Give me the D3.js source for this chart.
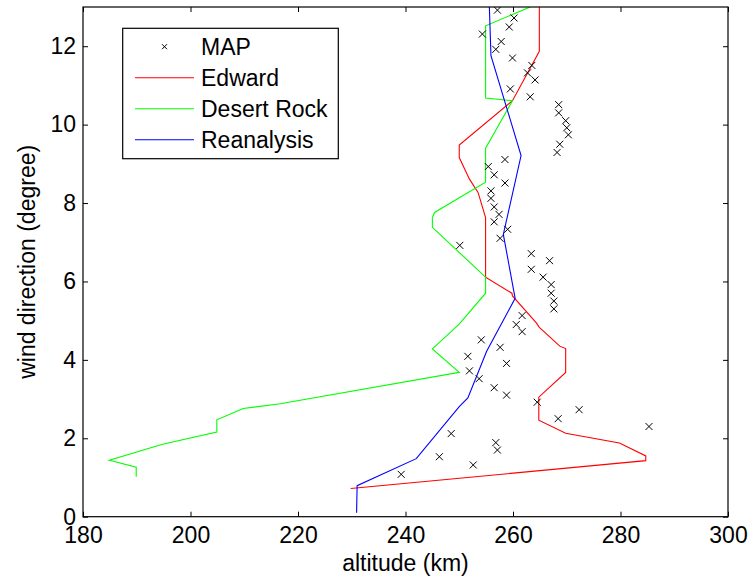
<!DOCTYPE html>
<head>
  <meta charset="utf-8">
  <script src="https://d3js.org/d3.v7.min.js"></script>
  <style>
    body { margin:0; background:#fff; }
    text { font-family: "Liberation Sans", Arial, sans-serif; }
  </style>
</head>

<body>
  <script>

  // MAP samples: altitude (km) and wind direction
  var mapAlt = [239.2, 252.6, 246.3, 257.1, 256.8, 248.5, 285.3, 268.4, 272.3, 264.5,
    258.8, 256.5, 253.7, 251.9, 258.8, 251.6, 257.6, 254.1, 261.7, 260.6,
    261.7, 267.6, 267.6, 267.1, 267.1, 265.6, 263.4, 266.8, 263.4, 250.1,
    257.6, 259.0, 256.5, 257.4, 256.5, 255.9, 255.9, 258.5, 256.5, 255.4,
    258.5, 268.2, 268.7, 270.3, 270.0, 269.8, 268.5, 268.5, 263.2, 259.5,
    264.1, 262.7, 263.5, 259.9, 256.8, 257.8, 254.3, 259.3, 260.2, 257.1];
  var mapDir = [1.08, 1.32, 1.53, 1.70, 1.89, 2.12, 2.30, 2.50, 2.73, 2.92,
    3.10, 3.29, 3.52, 3.72, 3.91, 4.09, 4.32, 4.51, 4.72, 4.90,
    5.13, 5.30, 5.50, 5.70, 5.92, 6.11, 6.31, 6.53, 6.71, 6.92,
    7.10, 7.33, 7.52, 7.71, 7.90, 8.12, 8.31, 8.51, 8.72, 8.93,
    9.11, 9.29, 9.50, 9.74, 9.92, 10.10, 10.30, 10.51, 10.71, 10.91,
    11.14, 11.32, 11.51, 11.70, 11.92, 12.12, 12.31, 12.49, 12.72, 12.92];

  var edwardAlt = [229.8, 284.7, 284.7, 279.8, 269.8, 264.8, 264.8, 269.8, 269.8, 268.7,
    264.9, 264.3, 259.9, 259.8, 254.9, 254.9, 253.5, 251.9, 250.0, 250.0,
    259.9, 264.9, 264.9];
  var edwardDir = [0.72, 1.43, 1.55, 1.88, 2.13, 2.46, 3.05, 3.68, 4.29, 4.35,
    4.83, 4.95, 5.63, 5.70, 6.11, 7.63, 8.27, 8.61, 9.16, 9.48,
    10.61, 11.87, 13.0];

  var desertAlt = [189.9, 189.9, 184.9, 194.8, 204.9, 204.9, 209.8, 216.7, 250.0, 245.0,
    249.9, 254.9, 254.9, 245.0, 245.0, 245.4, 254.9, 254.9, 259.9, 254.9,
    254.9, 263.2];
  var desertDir = [1.02, 1.26, 1.44, 1.85, 2.16, 2.47, 2.76, 2.88, 3.68, 4.28,
    4.90, 5.70, 6.11, 7.38, 7.63, 7.76, 8.53, 9.40, 10.61, 10.68,
    12.52, 13.0];

  var reanAlt = [230.9, 231.0, 242.0, 250.0, 251.6, 255.1, 260.4, 258.2, 261.5, 255.9, 255.6];
  var reanDir = [0.10, 0.79, 1.48, 2.81, 3.03, 4.22, 5.57, 7.20, 9.21, 11.76, 13.0];

  var xTicks = [180, 200, 220, 240, 260, 280, 300];
  var yTicks = [0, 2, 4, 6, 8, 10, 12];

  var width = 756, height = 580;
  var plotLeft = 83, plotRight = 728, plotTop = 7, plotBottom = 516.7;
  var fontSize = 23;

  var svg = d3.select("body").append("svg")
    .attr("width", width)
    .attr("height", height);

  var xScale = d3.scaleLinear().domain([180, 300]).range([plotLeft, plotRight]);
  var yScale = d3.scaleLinear().domain([0, 13]).range([plotBottom, plotTop]);

  svg.append("defs").append("clipPath").attr("id", "plotClip")
    .append("rect")
    .attr("x", plotLeft).attr("y", plotTop)
    .attr("width", plotRight - plotLeft).attr("height", plotBottom - plotTop);

  // Axes with inward ticks, MATLAB style box
  function styleAxis(g, showText) {
    g.select(".domain").remove();
    g.selectAll(".tick line").attr("stroke", "#000");
    g.selectAll(".tick text")
      .attr("fill", "#000")
      .style("font-size", fontSize + "px")
      .style("font-family", '"Liberation Sans", Arial, sans-serif');
    if (!showText) g.selectAll(".tick text").remove();
  }

  svg.append("g")
    .attr("transform", "translate(0," + plotBottom + ")")
    .call(d3.axisBottom(xScale).tickValues(xTicks).tickSize(-5).tickPadding(10))
    .call(styleAxis, true);

  svg.append("g")
    .attr("transform", "translate(0," + plotTop + ")")
    .call(d3.axisTop(xScale).tickValues(xTicks).tickSize(-5))
    .call(styleAxis, false);

  svg.append("g")
    .attr("transform", "translate(" + plotLeft + ",0)")
    .call(d3.axisLeft(yScale).tickValues(yTicks).tickSize(-5).tickPadding(7))
    .call(styleAxis, true);

  svg.append("g")
    .attr("transform", "translate(" + plotRight + ",0)")
    .call(d3.axisRight(yScale).tickValues(yTicks).tickSize(-5))
    .call(styleAxis, false);

  // Data
  var plot = svg.append("g").attr("clip-path", "url(#plotClip)");

  var line = d3.line()
    .x(function(d) { return xScale(d[0]); })
    .y(function(d) { return yScale(d[1]); });

  var series = [
    { name: "Edward", alt: edwardAlt, dir: edwardDir, color: "#ff0000" },
    { name: "Desert Rock", alt: desertAlt, dir: desertDir, color: "#00ff00" },
    { name: "Reanalysis", alt: reanAlt, dir: reanDir, color: "#0000ff" }
  ];

  series.forEach(function(s) {
    plot.append("path")
      .datum(d3.zip(s.alt, s.dir))
      .attr("d", line)
      .attr("fill", "none")
      .attr("stroke", s.color)
      .attr("stroke-width", 1.1);
  });

  function cross(sz) {
    return "M" + (-sz) + "," + (-sz) + "L" + sz + "," + sz +
           "M" + (-sz) + "," + sz + "L" + sz + "," + (-sz);
  }

  plot.selectAll(".map")
    .data(d3.zip(mapAlt, mapDir))
    .enter()
    .append("path")
    .attr("transform", function(d) {
      return "translate(" + xScale(d[0]) + "," + yScale(d[1]) + ")";
    })
    .attr("d", cross(3.5))
    .attr("stroke", "#000")
    .attr("stroke-width", 1)
    .attr("fill", "none");

  // Frame
  svg.append("rect")
    .attr("x", plotLeft).attr("y", plotTop)
    .attr("width", plotRight - plotLeft).attr("height", plotBottom - plotTop)
    .attr("fill", "none")
    .attr("stroke", "#000")
    .attr("stroke-width", 1.2);

  // Axis labels
  svg.append("text")
    .attr("x", (plotLeft + plotRight) / 2)
    .attr("y", 571)
    .attr("text-anchor", "middle")
    .style("font-size", fontSize + "px")
    .text("altitude (km)");

  svg.append("text")
    .attr("transform", "translate(35," + (plotTop + plotBottom) / 2 + ") rotate(-90)")
    .attr("text-anchor", "middle")
    .style("font-size", fontSize + "px")
    .text("wind direction (degree)");

  // Legend
  var legend = svg.append("g");
  legend.append("rect")
    .attr("x", 122.7).attr("y", 28.3)
    .attr("width", 215.6).attr("height", 130.4)
    .attr("fill", "#fff")
    .attr("stroke", "#000")
    .attr("stroke-width", 1.2);

  var legendItems = [{ name: "MAP", color: "#000", marker: true }].concat(series);
  legendItems.forEach(function(s, i) {
    var y = 46.7 + i * 31;
    if (s.marker) {
      legend.append("path")
        .attr("transform", "translate(164.5," + y + ")")
        .attr("d", cross(2.5))
        .attr("stroke", "#000")
        .attr("fill", "none");
    } else {
      legend.append("line")
        .attr("x1", 135).attr("x2", 194)
        .attr("y1", y).attr("y2", y)
        .attr("stroke", s.color)
        .attr("stroke-width", 1.1);
    }
    legend.append("text")
      .attr("x", 201)
      .attr("y", y)
      .attr("dy", "0.35em")
      .style("font-size", fontSize + "px")
      .text(s.name);
  });

  </script>
</body>
